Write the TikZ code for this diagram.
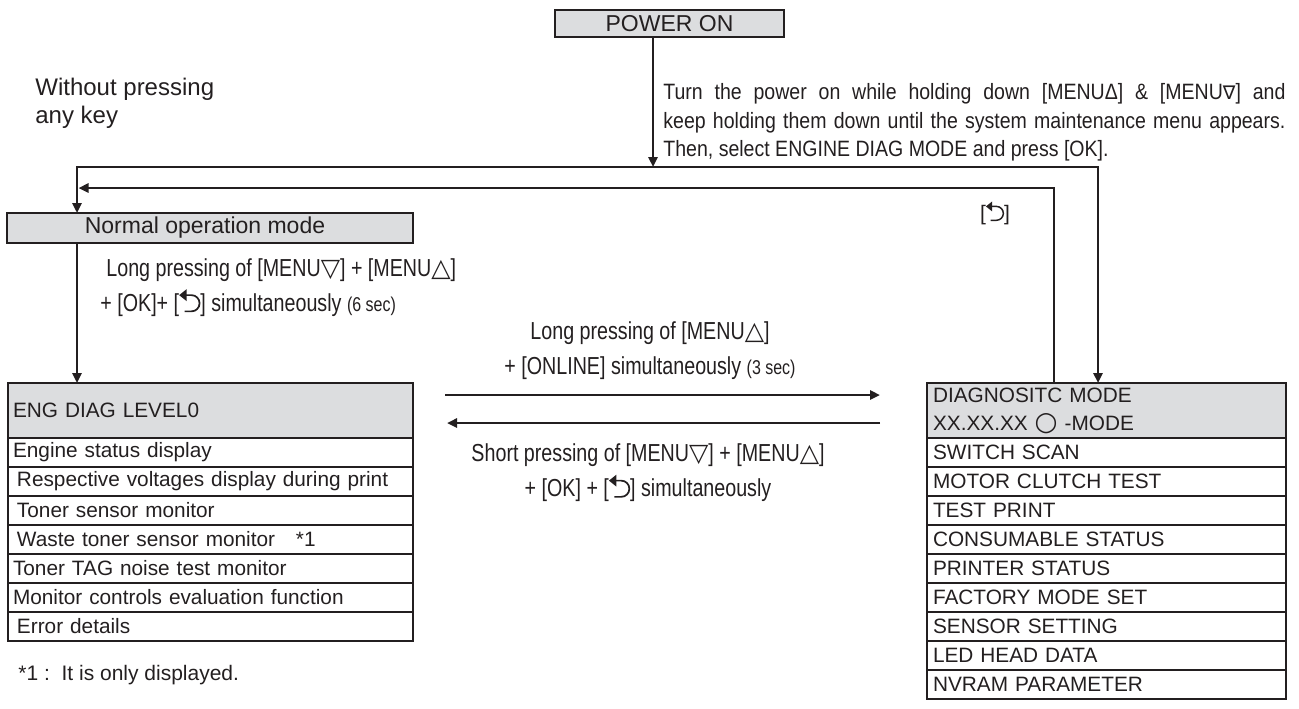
\documentclass[tikz,border=0pt]{standalone}
\usepackage{fontspec}
\setmainfont{Liberation Sans}
\newfontfamily\condfont[FakeStretch=0.8]{Liberation Sans}
\newfontfamily\narrowfont[FakeStretch=0.88]{Liberation Sans}
\newfontfamily\symfont[Scale=0.85]{DejaVu Sans}
\newfontfamily\trifont[Scale=1.02]{DejaVu Sans}
\usetikzlibrary{arrows.meta,positioning}
\definecolor{boxgray}{RGB}{220,221,223}
\definecolor{ink}{RGB}{35,31,32}
\newcommand{\kup}{{\trifont △}}
\newcommand{\kdn}{{\trifont ▽}}
\newcommand{\secs}[1]{{\fontsize{10}{10}\selectfont(#1 sec)}}
\newcommand{\retkey}{\tikz[baseline=0pt, x=1em, y=1em, ink]{
  \draw[line width=0.07em] (0.22,0) -- (0.5,0) arc[start angle=-90,end angle=90,radius=0.33] -- (0.25,0.66);
  \fill (0,0.66) -- (0.3,0.9) -- (0.3,0.42) -- cycle;}}

\begin{document}
\begin{tikzpicture}[x=0.5pt, y=-0.5pt, ink,
  hdr/.style={draw, line width=1.2pt, fill=boxgray, inner sep=0pt, outer sep=0pt, font=\fontsize{11.5}{13}\selectfont},
  hdrl/.style={draw, line width=1.2pt, fill=boxgray, align=left, inner ysep=0pt, outer sep=0pt, minimum height=27.5pt, font=\fontsize{10.4}{14}\selectfont},
  row/.style={draw, line width=0.6pt, minimum height=14.5pt, inner ysep=0pt, outer sep=0pt, align=left, font=\fontsize{10.4}{12}\selectfont},
  engrow/.style={row, text width=197.5pt, inner xsep=2.5pt},
  engrowin/.style={row, text width=193.5pt, inner xsep=4.5pt},
  diagrow/.style={row, text width=173.5pt, inner xsep=3pt},
  frame/.style={draw, line width=1.2pt},
  flow/.style={line width=1.3pt, -{Triangle[length=5pt,width=4.5pt]}},
  keylbl/.style={font=\condfont\fontsize{12.3}{17.5}\selectfont, inner sep=0pt},
  note/.style={font=\fontsize{11}{14}\selectfont, inner sep=0pt, align=left}
]
\useasboundingbox (0,0) rectangle (1299,708);

% boxes
\node[hdr, minimum width=114.5pt, minimum height=13.5pt] (pwr) at (669.5,23.5) {POWER ON};
\node[hdr, minimum width=203pt, minimum height=15pt] (normal) at (210,228) {Normal operation mode\hspace*{5pt}};

\node[hdrl, text width=197.5pt, inner xsep=2.5pt, anchor=north west] (eng) at (8,383) {ENG DIAG LEVEL0};
\node[engrow, below=0pt of eng] (e1) {Engine status display};
\node[engrowin, below=0pt of e1] (e2) {Respective voltages display during print};
\node[engrowin, below=0pt of e2] (e3) {Toner sensor monitor};
\node[engrowin, below=0pt of e3] (e4) {Waste toner sensor monitor \ \ *1};
\node[engrow, below=0pt of e4] (e5) {Toner TAG noise test monitor};
\node[engrow, below=0pt of e5] (e6) {Monitor controls evaluation function};
\node[engrowin, below=0pt of e6] (e7) {Error details};
\draw[frame] (eng.north west) rectangle (e7.south east);

\node[hdrl, text width=173.5pt, inner xsep=3pt, anchor=north west] (diag) at (927,383) {DIAGNOSITC MODE\\XX.XX.XX {\symfont\fontsize{15.5}{14}\selectfont ○} -MODE};
\node[diagrow, below=0pt of diag] (d1) {SWITCH SCAN};
\node[diagrow, below=0pt of d1] (d2) {MOTOR CLUTCH TEST};
\node[diagrow, below=0pt of d2] (d3) {TEST PRINT};
\node[diagrow, below=0pt of d3] (d4) {CONSUMABLE STATUS};
\node[diagrow, below=0pt of d4] (d5) {PRINTER STATUS};
\node[diagrow, below=0pt of d5] (d6) {FACTORY MODE SET};
\node[diagrow, below=0pt of d6] (d7) {SENSOR SETTING};
\node[diagrow, below=0pt of d7] (d8) {LED HEAD DATA};
\node[diagrow, below=0pt of d8] (d9) {NVRAM PARAMETER};
\draw[frame] (diag.north west) rectangle (d9.south east);

% texts
\node[note, font=\fontsize{12}{14}\selectfont, anchor=west] (nokey) at (35,103) {Without pressing\\any key};
\node[note, font=\narrowfont\fontsize{11.1}{14.3}\selectfont, text width=311pt, align=justify, anchor=north west] (turn) at (663,83)
  {Turn the power on while holding down [MENUΔ] \& [MENU{\symfont ∇}] and\linebreak keep holding them down until the system maintenance menu appears.\linebreak Then, select ENGINE DIAG MODE and press [OK].};
\node[note, font=\fontsize{10.5}{12}\selectfont] (back) at (995,213) {[\retkey]};
\node[keylbl, align=left, anchor=west] (toeng) at (100,287.5) {\hspace*{3pt}Long pressing of [MENU\kdn] + [MENU\kup]\\+ [OK]+ [\retkey] simultaneously \secs{6}};
\node[keylbl, align=center] (todiag) at (650,351) {Long pressing of [MENU\kup]\\+ [ONLINE] simultaneously \secs{3}};
\node[keylbl, align=center] (toback) at (648,473) {Short pressing of [MENU\kdn] + [MENU\kup]\\+ [OK] + [\retkey] simultaneously};
\node[note, font=\fontsize{10.5}{14}\selectfont, anchor=west] (foot) at (18,675) {*1 :\ \ It is only displayed.};

% connectors
\coordinate (xL) at (77,0);
\coordinate (xR) at (1098,0);
\coordinate (xB) at (1054,0);
\coordinate (jTop) at (653,167);
\coordinate (jRet) at (78.5,188);
\coordinate (fwdA) at (445,395);
\coordinate (fwdB) at (880,395);
\coordinate (bckA) at (880,423);
\coordinate (bckB) at (447,423);

\draw[flow] (pwr.south -| jTop) -- (jTop);
\draw[flow, {Triangle[length=5pt,width=4.5pt]}-{Triangle[length=5pt,width=4.5pt]}] (normal.north -| xL) |- (jTop) -| (diag.north -| xR);
\draw[flow] (diag.north -| xB) |- (jRet);
\draw[flow] (normal.south -| xL) -- (eng.north -| xL);
\draw[flow] (fwdA) -- (fwdB);
\draw[flow] (bckA) -- (bckB);

\end{tikzpicture}
\end{document}
